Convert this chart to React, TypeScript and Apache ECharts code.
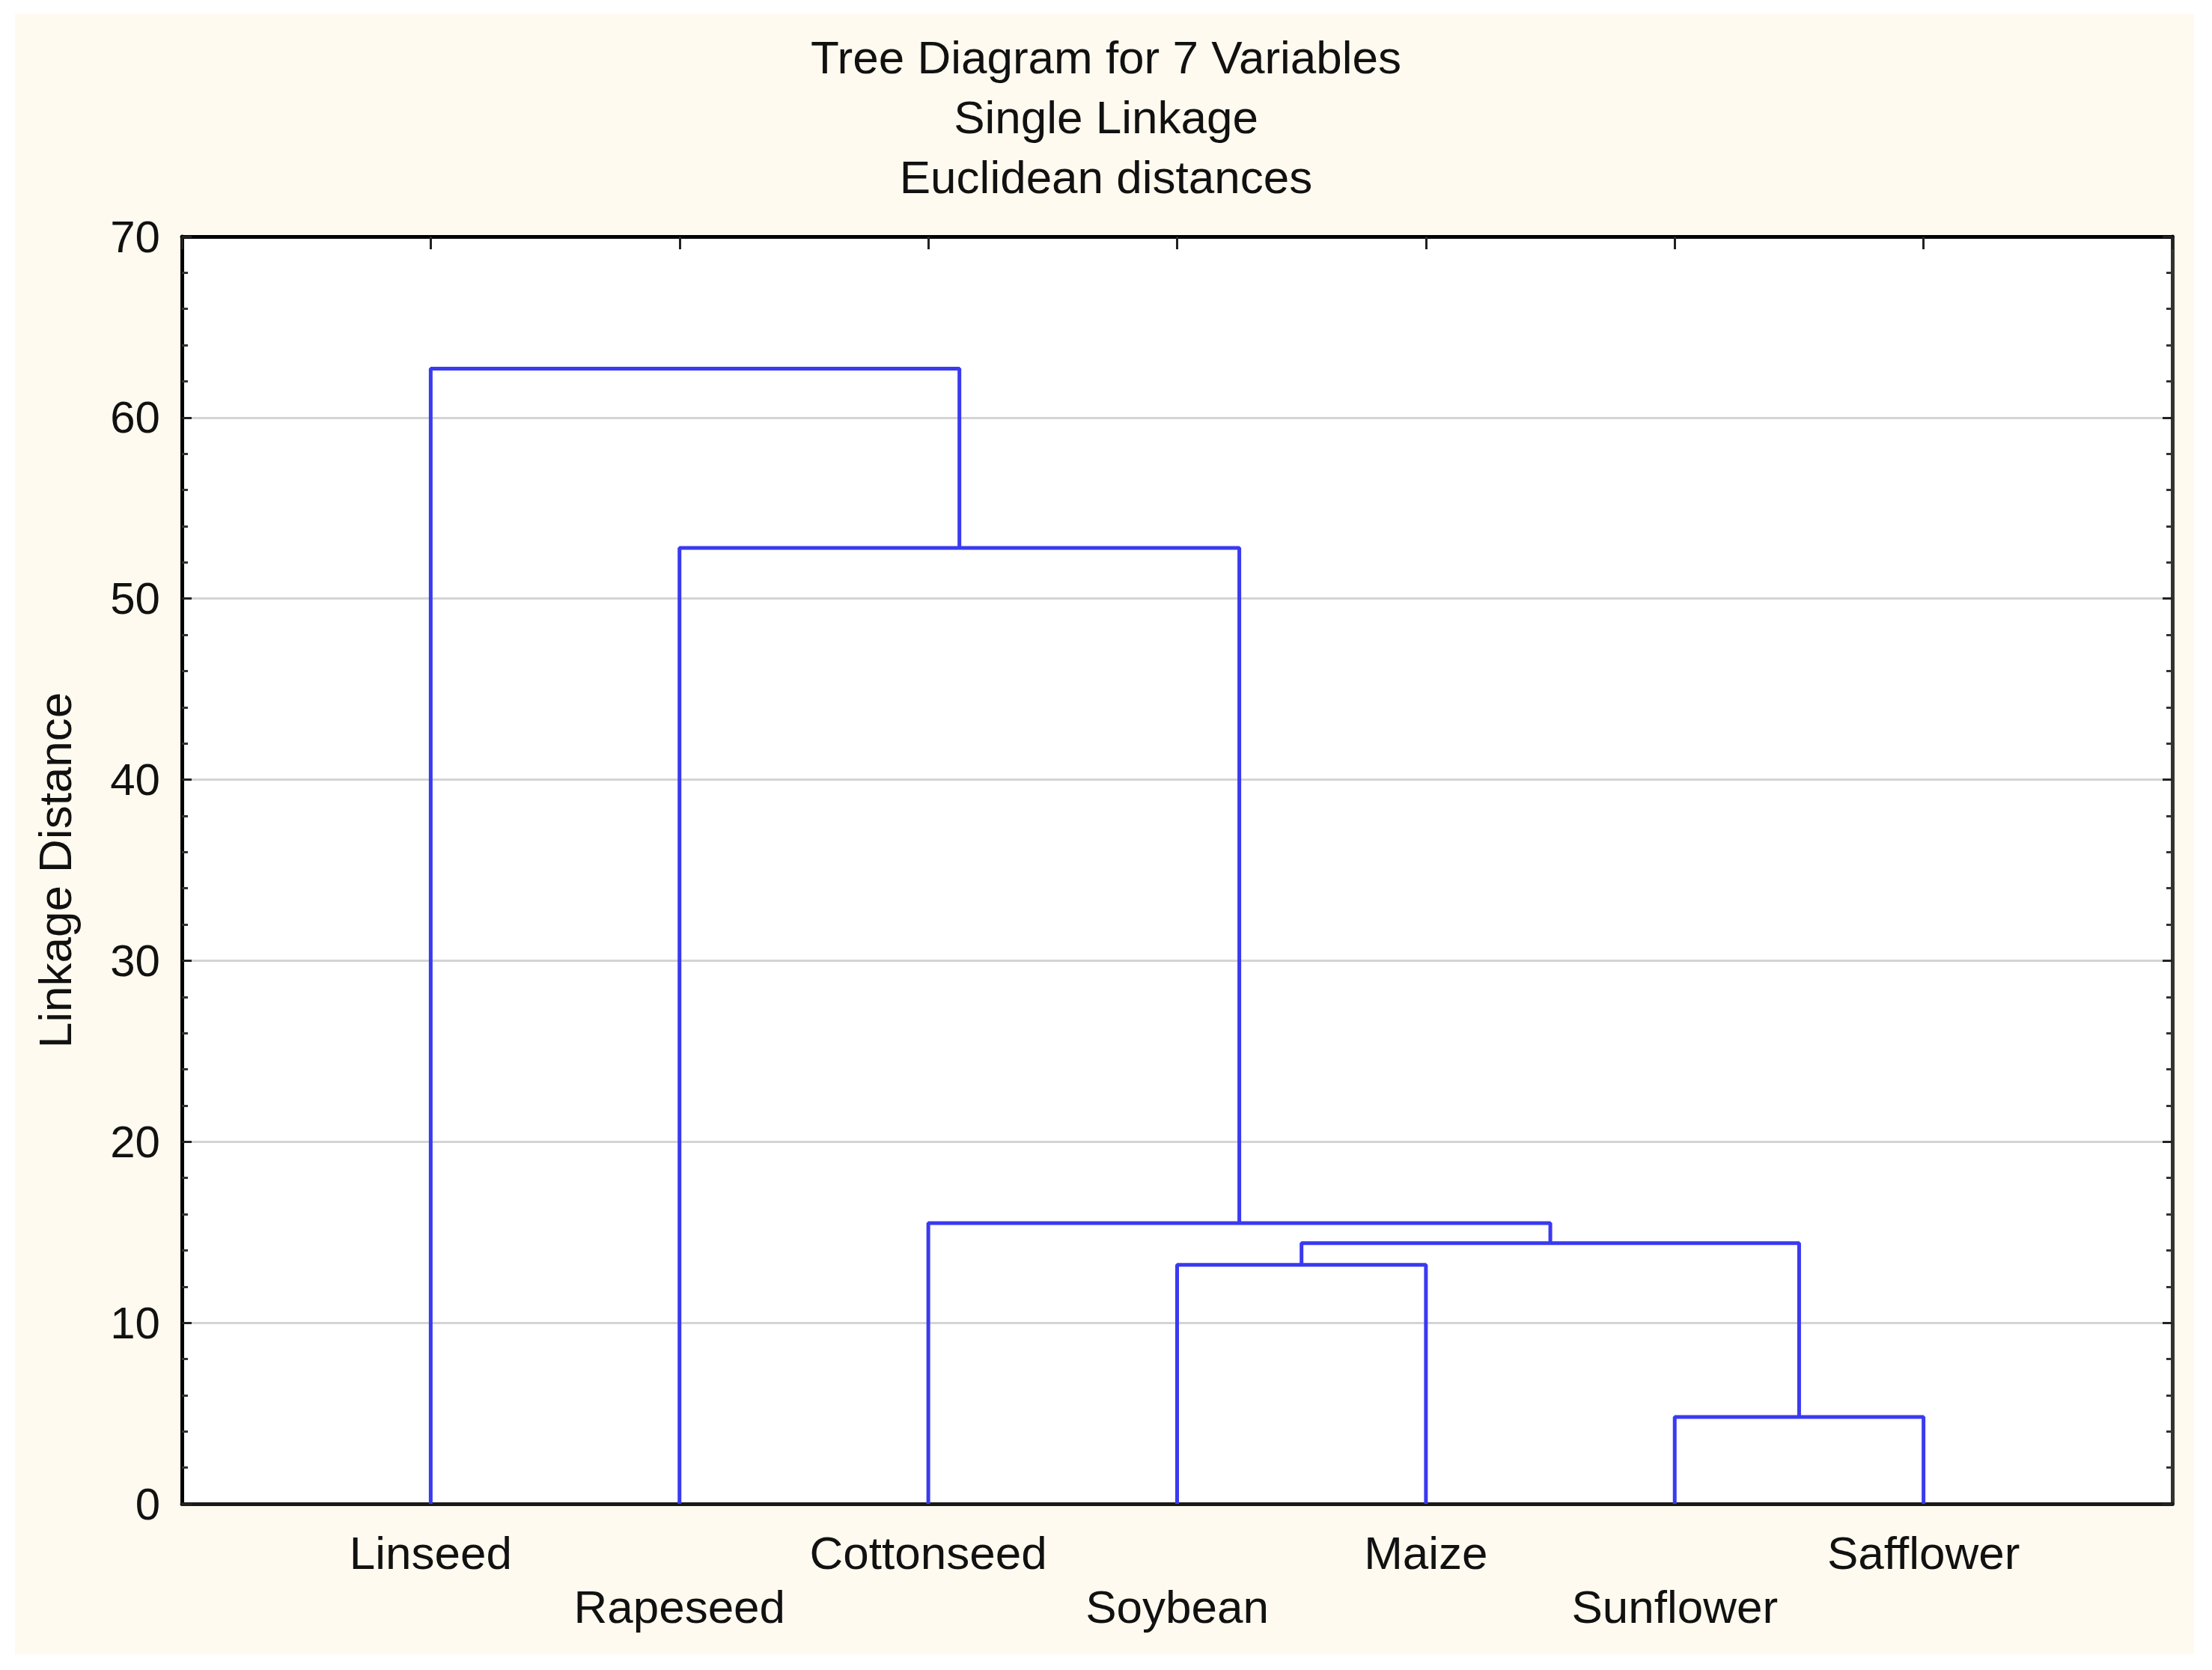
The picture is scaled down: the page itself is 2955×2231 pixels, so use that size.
import React, { useEffect, useRef } from "react";
import * as echarts from "echarts";

// ---- data ----
const TITLE_LINES = ["Tree Diagram for 7 Variables", "Single Linkage", "Euclidean distances"];
const Y_NAME = "Linkage Distance";
const LEAVES = ["Linseed", "Rapeseed", "Cottonseed", "Soybean", "Maize", "Sunflower", "Safflower"];
// merges: [node A, node B, linkage distance]; new node ids continue after leaves
const MERGES: [number, number, number][] = [
  [5, 6, 4.8],
  [3, 4, 13.2],
  [8, 7, 14.4],
  [2, 9, 15.5],
  [1, 10, 52.8],
  [0, 11, 62.7],
];
const Y_MIN = 0;
const Y_MAX = 70;
const Y_STEP = 10;

const FONT = "'Liberation Sans', Arial, sans-serif";
const LINK_COLOR = "#3a3af0";

function buildSeries() {
  const pos = LEAVES.map((_, i) => i + 1);
  const ht = LEAVES.map(() => 0);
  const series: any[] = [];
  MERGES.forEach(([a, b, h], k) => {
    series.push({
      type: "line",
      name: "link" + k,
      xAxisIndex: 0,
      yAxisIndex: 0,
      showSymbol: false,
      symbol: "none",
      silent: true,
      z: 5,
      lineStyle: { color: LINK_COLOR, width: 5 },
      data: [
        [pos[a], ht[a]],
        [pos[a], h],
        [pos[b], h],
        [pos[b], ht[b]],
      ],
    });
    pos.push((pos[a] + pos[b]) / 2);
    ht.push(h);
  });
  return series;
}

export default function App() {
  const ref = useRef<HTMLDivElement>(null);
  useEffect(() => {
    if (!ref.current) return;
    const chart = echarts.init(ref.current, null, { renderer: "svg" });
    const xMax = LEAVES.length + 1;
    const minor = { show: true, splitNumber: 5, length: 8, lineStyle: { color: "#333", width: 3 } };
    chart.setOption({
      animation: false,
      backgroundColor: "#ffffff",
      textStyle: { fontFamily: FONT },
      graphic: [
        {
          type: "rect",
          silent: true,
          z: -10,
          shape: { x: 20, y: 19, width: 2911, height: 2191 },
          style: { fill: "#fffaef" },
        },
      ],
      title: {
        text: TITLE_LINES.join("\n"),
        left: "center",
        top: 31,
        textStyle: {
          fontFamily: FONT,
          fontSize: 62,
          lineHeight: 80,
          fontWeight: "normal",
          color: "#111",
        },
      },
      grid: {
        left: 243,
        right: 53,
        top: 316,
        bottom: 222,
        show: true,
        backgroundColor: "#ffffff",
        borderWidth: 0,
      },
      xAxis: [
        {
          type: "value",
          position: "bottom",
          min: 0,
          max: xMax,
          interval: 1,
          axisLine: { show: true, onZero: false, lineStyle: { color: "#1a1a1a", width: 5 } },
          axisTick: { show: false },
          splitLine: { show: false },
          axisLabel: {
            margin: 29,
            fontSize: 62,
            lineHeight: 72,
            color: "#111",
            fontFamily: FONT,
            formatter: (v: number) => {
              const i = Math.round(v) - 1;
              if (i < 0 || i >= LEAVES.length) return "";
              return i % 2 === 1 ? "\n" + LEAVES[i] : LEAVES[i];
            },
          },
        },
        {
          type: "value",
          position: "top",
          min: 0,
          max: xMax,
          interval: 1,
          axisLine: { show: true, onZero: false, lineStyle: { color: "#000", width: 5 } },
          axisTick: { show: true, inside: true, length: 17, lineStyle: { color: "#222", width: 3 } },
          axisLabel: { show: false },
          splitLine: { show: false },
        },
      ],
      yAxis: [
        {
          type: "value",
          position: "left",
          min: Y_MIN,
          max: Y_MAX,
          interval: Y_STEP,
          name: Y_NAME,
          nameLocation: "middle",
          nameGap: 139,
          nameTextStyle: { fontSize: 62, color: "#111", fontFamily: FONT },
          axisLine: { show: true, onZero: false, lineStyle: { color: "#000", width: 5 } },
          axisTick: { show: true, inside: true, length: 13, lineStyle: { color: "#222", width: 3 } },
          minorTick: minor,
          axisLabel: { margin: 29, fontSize: 60, color: "#111", fontFamily: FONT },
          splitLine: { show: true, lineStyle: { color: "#d4d4d4", width: 3 } },
        },
        {
          type: "value",
          position: "right",
          min: Y_MIN,
          max: Y_MAX,
          interval: Y_STEP,
          axisLine: { show: true, onZero: false, lineStyle: { color: "#333", width: 5 } },
          axisTick: { show: true, inside: true, length: 13, lineStyle: { color: "#222", width: 3 } },
          minorTick: minor,
          axisLabel: { show: false },
          splitLine: { show: false },
        },
      ],
      series: buildSeries(),
    });
    return () => chart.dispose();
  }, []);
  return (
    <div
      ref={ref}
      style={{ position: "absolute", left: 0, top: 0, width: 2955, height: 2231 }}
    />
  );
}
